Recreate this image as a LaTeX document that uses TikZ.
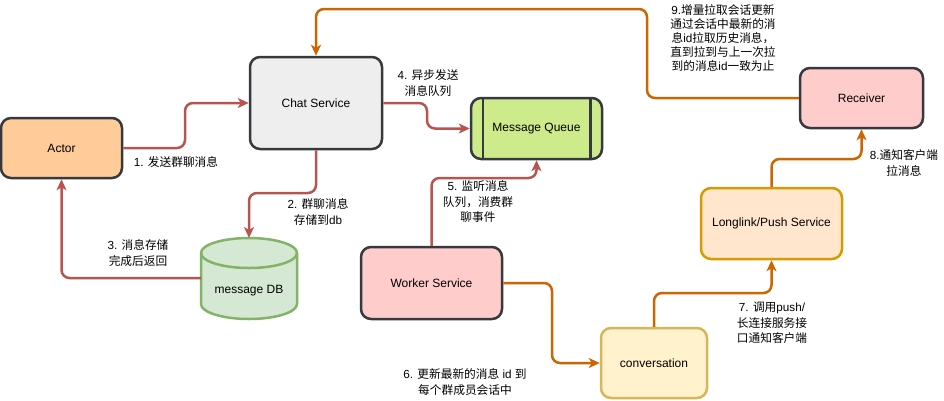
\documentclass[tikz,border=0pt]{standalone}
\usepackage{fontspec}
\setmainfont{Liberation Sans}
\newfontfamily\cjk{Noto Sans CJK SC}
\newcommand\zh[1]{{\cjk #1}}
\usetikzlibrary{arrows.meta}
\definecolor{redline}{HTML}{B85450}
\definecolor{orline}{HTML}{CC6600}
\definecolor{darkline}{HTML}{36393D}
\definecolor{actorfill}{HTML}{FFCC99}
\definecolor{chatfill}{HTML}{EEEEEE}
\definecolor{mqfill}{HTML}{CDEB8B}
\definecolor{dbfill}{HTML}{D5E8D4}
\definecolor{dbline}{HTML}{82B366}
\definecolor{pinkfill}{HTML}{FFCCCC}
\definecolor{convfill}{HTML}{FFF2CC}
\definecolor{convline}{HTML}{D6B656}
\definecolor{pushfill}{HTML}{FFE6CC}
\definecolor{pushline}{HTML}{D79B00}
\tikzset{
  box/.style={draw=darkline, line width=2.5pt, rounded corners=10pt, inner sep=0pt,
    font=\fontsize{12}{14}\selectfont, align=center},
  conn/.style={line width=2.5pt, rounded corners=8pt,
    -{Stealth[length=11pt,width=10pt,inset=3pt]}},
  redc/.style={conn, draw=redline, redline},
  orc/.style={conn, draw=orline, orline},
  lbl/.style={font=\fontsize{11.7}{15.5}\selectfont, align=center, inner sep=0pt},
}
\begin{document}
\begin{tikzpicture}[x=1pt,y=-1pt]
\useasboundingbox (0,0) rectangle (944,400);

% nodes
\node[box, fill=actorfill, minimum width=121pt, minimum height=60pt] (actor) at (61.5,148) {Actor};
\node[box, fill=chatfill, minimum width=132pt, minimum height=92pt] (chat) at (316,103) {Chat Service};
\node[box, fill=mqfill, minimum width=131pt, minimum height=61pt] (mq) at (536.5,128.5) {Message Queue};
\draw[darkline, line width=2.5pt] ([xshift=13pt]mq.north west) -- ([xshift=13pt]mq.south west);
\draw[darkline, line width=2.5pt] ([xshift=-13pt]mq.north east) -- ([xshift=-13pt]mq.south east);
\node[box, fill=pinkfill, minimum width=141pt, minimum height=72pt] (worker) at (431.5,283) {Worker Service};
\node[box, fill=convfill, draw=convline, minimum width=106pt, minimum height=70pt] (conv) at (654,363) {conversation};
\node[box, fill=pushfill, draw=pushline, minimum width=141pt, minimum height=71pt] (push) at (771.5,223.5) {Longlink/Push Service};
\node[box, fill=pinkfill, minimum width=123pt, minimum height=60pt] (recv) at (861.5,98) {Receiver};

% database cylinder
\path[fill=dbfill, draw=dbline, line width=2.5pt]
  (201,253) -- (201,304) arc[start angle=180, end angle=0, x radius=48, y radius=15]
  -- (297,253) arc[start angle=0, end angle=-180, x radius=48, y radius=15] -- cycle;
\draw[dbline, line width=2.5pt] (201,253) arc[start angle=180, end angle=0, x radius=48, y radius=15];
\node[font=\fontsize{12}{14}\selectfont] (db) at (249,291) {message DB};
\coordinate (dbtop) at (249,238);
\coordinate (dbleft) at (201,278);

% connectors
\draw[redc] (actor.east) -- (185,148) |- (chat.west);
\draw[redc] (chat.south) -- (316,193) -| (dbtop);
\draw[redc] (dbleft) -| (actor.south);
\draw[redc] (chat.east) -- (427,103) |- (mq.west);
\draw[redc] (worker.north) -- (431.5,178) -| (mq.south);
\draw[orc] (worker.east) -- (552,283) |- (conv.west);
\draw[orc] (conv.north) -- (654,293) -| (push.south);
\draw[orc] (push.north) -- (771.5,159) -| (recv.south);
\draw[orc] (recv.west) -- (647,98) -- (647,9) -| (chat.north);

% labels
\node[lbl] (l1) at (176,162) {1. \zh{发送群聊消息}};
\node[lbl] (l2) at (318,212) {2. \zh{群聊消息}\\\zh{存储到}db};
\node[lbl] (l3) at (138,253) {3. \zh{消息存储}\\\zh{完成后返回}};
\node[lbl] (l4) at (428,83) {4. \zh{异步发送}\\\zh{消息队列}};
\node[lbl] (l5) at (478,202) {5. \zh{监听消息}\\\zh{队列，消费群}\\\zh{聊事件}};
\node[lbl] (l6) at (465,382) {6. \zh{更新最新的消息} id \zh{到}\\\zh{每个群成员会话中}};
\node[lbl] (l7) at (772,323) {7. \zh{调用}push/\\\zh{长连接服务接}\\\zh{口通知客户端}};
\node[lbl] (l8) at (904,163) {8.\zh{通知客户端}\\\zh{拉消息}};
\node[lbl, font=\fontsize{11.7}{14}\selectfont] (l9) at (723,38) {9.\zh{增量拉取会话更新}\\\zh{通过会话中最新的消}\\\zh{息}id\zh{拉取历史消息，}\\\zh{直到拉到与上一次拉}\\\zh{到的消息}id\zh{一致为止}};
\end{tikzpicture}
\end{document}
